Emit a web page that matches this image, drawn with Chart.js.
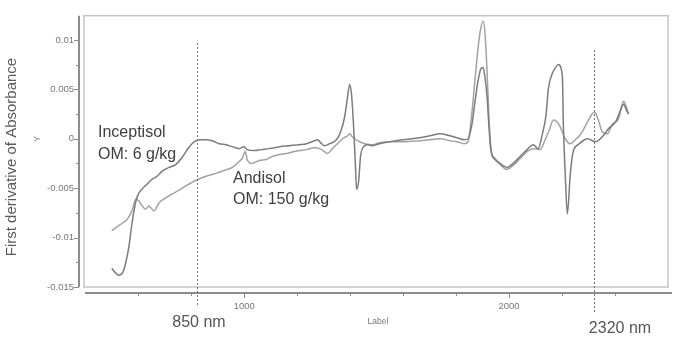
<!DOCTYPE html>
<html>
<head>
<meta charset="utf-8">
<script src="https://cdn.jsdelivr.net/npm/chart.js@4.4.1/dist/chart.umd.min.js"></script>
<style>
  html, body { margin: 0; padding: 0; background: #fff; }
  #wrap { width: 677px; height: 340px; }
</style>
</head>
<body>
<div id="wrap"><canvas id="c" width="677" height="340"></canvas></div>
<script>
// Inceptisol (OM 6 g/kg) – first derivative spectrum
const incWavelength = [500, 515, 526, 542, 553, 564, 576, 591, 602, 614, 633, 652, 670, 689, 716, 742, 765, 780, 799, 818,
  837, 856, 879, 905, 932, 955, 981, 1000, 1011, 1038, 1064, 1095, 1133, 1170, 1208, 1235, 1265, 1277, 1292, 1303,
  1322, 1348, 1364, 1379, 1390, 1398, 1405, 1413, 1420, 1424, 1432, 1439, 1451, 1466, 1485, 1511, 1549, 1599, 1663, 1701,
  1739, 1777, 1803, 1830, 1845, 1860, 1871, 1883, 1894, 1902, 1909, 1917, 1924, 1932, 1947, 1966, 1992, 2015, 2042, 2068,
  2091, 2110, 2125, 2140, 2148, 2163, 2178, 2186, 2201, 2205, 2212, 2220, 2231, 2242, 2261, 2296, 2326, 2352, 2375, 2402,
  2421, 2432, 2443, 2451];
const incValue = [-0.0131, -0.0136, -0.0138, -0.0135, -0.0125, -0.0110, -0.0086, -0.0063, -0.0055, -0.0051, -0.0046, -0.0041, -0.0038, -0.0033, -0.0029, -0.0026, -0.0019, -0.0013, -0.0006, -0.0002,
  -0.0001, -0.0001, -0.0002, -0.0005, -0.0006, -0.0008, -0.0010, -0.0008, -0.0011, -0.0012, -0.0011, -0.0010, -0.0008, -0.0007, -0.0006, -0.0005, -0.0002, -0.0001, -0.0005, -0.0007,
  -0.0005, -0.0001, 0.0007, 0.0022, 0.0042, 0.0055, 0.0045, 0.0012, -0.0028, -0.0051, -0.0043, -0.0018, -0.0008, -0.0006, -0.0007, -0.0005, -0.0003, -0.0001, 0.0001, 0.0003,
  0.0005, 0.0003, 0.0001, -0.0001, 0.0000, 0.0015, 0.0037, 0.0059, 0.0071, 0.0072, 0.0062, 0.0042, 0.0012, -0.0013, -0.0021, -0.0025, -0.0029, -0.0025, -0.0018, -0.0011,
  -0.0006, -0.0010, 0.0004, 0.0025, 0.0050, 0.0066, 0.0073, 0.0075, 0.0064, 0.0014, -0.0036, -0.0076, -0.0036, -0.0013, -0.0006, 0.0000, -0.0003, 0.0002, 0.0010, 0.0017,
  0.0029, 0.0035, 0.0029, 0.0025];

// Andisol (OM 150 g/kg)
const andWavelength = [500, 515, 526, 542, 553, 564, 576, 591, 602, 610, 621, 629, 640, 648, 659, 670, 678, 697, 727, 754,
  784, 818, 856, 894, 924, 955, 981, 992, 1004, 1011, 1027, 1057, 1083, 1106, 1133, 1159, 1189, 1208, 1235, 1265,
  1284, 1303, 1314, 1333, 1348, 1371, 1390, 1398, 1405, 1417, 1436, 1455, 1485, 1511, 1549, 1599, 1663, 1701, 1739, 1777,
  1803, 1830, 1845, 1856, 1867, 1879, 1890, 1902, 1909, 1917, 1924, 1932, 1947, 1966, 1992, 2015, 2042, 2068, 2091, 2117,
  2136, 2152, 2167, 2182, 2193, 2212, 2231, 2250, 2269, 2296, 2311, 2322, 2337, 2352, 2371, 2390, 2413, 2424, 2432, 2443,
  2451];
const andValue = [-0.0093, -0.0090, -0.0088, -0.0085, -0.0083, -0.0079, -0.0073, -0.0061, -0.0063, -0.0066, -0.0070, -0.0071, -0.0068, -0.0070, -0.0073, -0.0069, -0.0065, -0.0061, -0.0056, -0.0052,
  -0.0047, -0.0042, -0.0038, -0.0035, -0.0032, -0.0029, -0.0023, -0.0020, -0.0013, -0.0021, -0.0025, -0.0022, -0.0021, -0.0018, -0.0016, -0.0015, -0.0013, -0.0012, -0.0011, -0.0009,
  -0.0010, -0.0013, -0.0015, -0.0010, -0.0006, 0.0000, 0.0003, 0.0005, 0.0003, 0.0000, -0.0003, -0.0005, -0.0006, -0.0004, -0.0003, -0.0003, -0.0002, -0.0001, 0.0000, -0.0002,
  -0.0003, -0.0005, -0.0003, 0.0017, 0.0047, 0.0082, 0.0107, 0.0119, 0.0107, 0.0067, 0.0022, -0.0011, -0.0020, -0.0026, -0.0031, -0.0027, -0.0020, -0.0013, -0.0010, -0.0011,
  -0.0001, 0.0009, 0.0019, 0.0017, 0.0012, 0.0000, -0.0005, -0.0001, 0.0004, 0.0017, 0.0024, 0.0027, 0.0019, 0.0007, 0.0005, 0.0015, 0.0020, 0.0032, 0.0038, 0.0032,
  0.0025];

const yMajorTicks = [-0.015, -0.01, -0.005, 0, 0.005, 0.01];
const yTickLabels = ['-0.015', '-0.01', '-0.005', '0', '0.005', '0.01'];
const xTickMarks = [600, 800, 1000, 1200, 1400, 1600, 1800, 2000, 2200, 2400];
const xTickLabels = [1000, 2000];
const markerNm = [822, 2322];
const markerLabels = ['850 nm', '2320 nm'];

Chart.defaults.font.family = "'Liberation Sans', Arial, sans-serif";

const toPoints = (xs, ys) => xs.map((x, i) => ({ x, y: ys[i] }));

// frame, separated axes, dotted markers and the free text of the figure
const decor = {
  id: 'decor',
  beforeDatasetsDraw(chart) {
    const { ctx, chartArea: a, scales: { x, y } } = chart;
    ctx.save();
    ctx.strokeStyle = '#c6c6c6';
    ctx.lineWidth = 1.5;
    ctx.strokeRect(a.left, a.top, a.right - a.left, a.bottom - a.top);

    ctx.strokeStyle = '#8c8c8c';
    ctx.lineWidth = 2;
    ctx.beginPath();
    ctx.moveTo(79, a.top);
    ctx.lineTo(79, a.bottom);
    ctx.moveTo(85, 293);
    ctx.lineTo(672, 293);
    ctx.stroke();

    ctx.lineWidth = 1;
    ctx.beginPath();
    yMajorTicks.forEach((v, i) => {
      const py = Math.round(y.getPixelForValue(v)) + 0.5;
      ctx.moveTo(74, py);
      ctx.lineTo(79, py);
      if (i < yMajorTicks.length - 1) {
        const pm = Math.round(y.getPixelForValue((v + yMajorTicks[i + 1]) / 2)) + 0.5;
        ctx.moveTo(76, pm);
        ctx.lineTo(79, pm);
      }
    });
    xTickMarks.forEach((v) => {
      const px = Math.round(x.getPixelForValue(v)) + 0.5;
      ctx.moveTo(px, 293);
      ctx.lineTo(px, xTickLabels.includes(v) ? 298 : 296);
    });
    ctx.stroke();
    ctx.restore();
  },
  afterDatasetsDraw(chart) {
    const { ctx, scales: { x } } = chart;
    ctx.save();
    ctx.strokeStyle = '#6f6f6f';
    ctx.lineWidth = 1;
    ctx.setLineDash([2, 2]);
    const spans = [[43, 305], [50, 313]];
    markerNm.forEach((v, i) => {
      const px = Math.round(x.getPixelForValue(v)) + 0.5;
      ctx.beginPath();
      ctx.moveTo(px, spans[i][0]);
      ctx.lineTo(px, spans[i][1]);
      ctx.stroke();
    });
    ctx.setLineDash([]);

    ctx.fillStyle = '#404040';
    ctx.font = "16px 'Liberation Sans', Arial, sans-serif";
    ctx.textBaseline = 'alphabetic';
    ctx.textAlign = 'left';
    ctx.fillText('Inceptisol', 98, 137);
    ctx.fillText('OM: 6 g/kg', 98, 159);
    ctx.fillText('Andisol', 233, 183);
    ctx.fillText('OM: 150 g/kg', 233, 204);

    ctx.fillStyle = '#555';
    ctx.textAlign = 'center';
    ctx.textBaseline = 'middle';
    ctx.fillText(markerLabels[0], 199, 323);
    ctx.fillText(markerLabels[1], 620, 329);

    ctx.fillStyle = '#777';
    ctx.font = "8.5px 'Liberation Sans', Arial, sans-serif";
    ctx.fillText('Label', 378, 322);

    ctx.save();
    ctx.translate(38, 139);
    ctx.rotate(-Math.PI / 2);
    ctx.fillText('Y', 0, 0);
    ctx.restore();

    ctx.save();
    ctx.translate(12, 157);
    ctx.rotate(-Math.PI / 2);
    ctx.fillStyle = '#5a5a5a';
    ctx.font = "15px 'Liberation Sans', Arial, sans-serif";
    ctx.fillText('First derivative of Absorbance', 0, 0);
    ctx.restore();
    ctx.restore();
  },
};

new Chart(document.getElementById('c'), {
  type: 'line',
  data: {
    datasets: [
      {
        label: 'Inceptisol',
        data: toPoints(incWavelength, incValue),
        borderColor: '#7c7c7c',
        borderWidth: 1.5,
        pointRadius: 0,
        cubicInterpolationMode: 'monotone',
        fill: false,
      },
      {
        label: 'Andisol',
        data: toPoints(andWavelength, andValue),
        borderColor: '#a2a2a2',
        borderWidth: 1.5,
        pointRadius: 0,
        cubicInterpolationMode: 'monotone',
        fill: false,
      },
    ],
  },
  options: {
    responsive: false,
    animation: false,
    layout: { padding: { left: 0, right: 9, top: 13, bottom: 0 } },
    plugins: { legend: { display: false }, tooltip: { enabled: false } },
    scales: {
      x: {
        type: 'linear',
        min: 395,
        max: 2600,
        grid: { display: false, drawTicks: false },
        border: { display: false },
        afterBuildTicks: (s) => { s.ticks = xTickLabels.map((v) => ({ value: v })); },
        afterFit: (s) => { s.height = 53; },
        ticks: { padding: 14, color: '#777', font: { size: 9.5 }, maxRotation: 0, autoSkip: false, callback: (v) => String(v) },
      },
      y: {
        min: -0.015,
        max: 0.01245,
        grid: { display: false, drawTicks: false },
        border: { display: false },
        afterBuildTicks: (s) => { s.ticks = yMajorTicks.map((v) => ({ value: v })); },
        afterFit: (s) => { s.width = 84; },
        ticks: { padding: 10, color: '#777', font: { size: 9.5 }, autoSkip: false, callback: (v, i) => yTickLabels[i] },
      },
    },
  },
  plugins: [decor],
});
</script>
</body>
</html>
